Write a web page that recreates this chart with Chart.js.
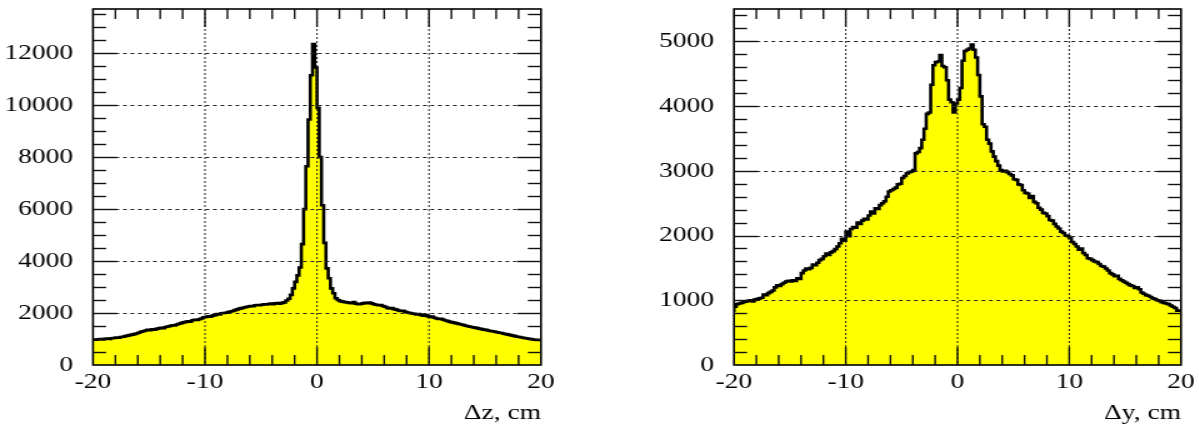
<!DOCTYPE html>
<html>
<head>
<meta charset="utf-8">
<script src="https://cdn.jsdelivr.net/npm/chart.js@4.4.1/dist/chart.umd.min.js"></script>
<style>
  html, body { margin: 0; padding: 0; background: #fff; }
  body { width: 1199px; height: 435px; position: relative; overflow: hidden; }
  /* the original figure is stretched sideways, so the canvases are too */
  .plot { position: absolute; top: 0; transform: scaleX(1.25); transform-origin: 0 0; }
</style>
</head>
<body>
<canvas id="dz" class="plot" width="480" height="435" style="left:0"></canvas>
<canvas id="dy" class="plot" width="480" height="435" style="left:600px"></canvas>
<script>
// histogram binning: 200 bins of 0.2 cm from -20 to 20
const xMin = -20;
const xMax = 20;
const binWidth = 0.2;
const xTicks = [-20, -10, 0, 10, 20];

const dzTicks = [0, 2000, 4000, 6000, 8000, 10000, 12000];
const dyTicks = [0, 1000, 2000, 3000, 4000, 5000];

// Δz counts per bin
const dzCounts = [
  950, 980, 970, 990, 1000, 985, 1010, 1020, 1005, 1030, 1040, 1060, 1050, 1080, 1090, 1110, 1130, 1150, 1170, 1190,
  1210, 1240, 1280, 1300, 1330, 1350, 1340, 1370, 1360, 1390, 1410, 1430, 1420, 1460, 1480, 1500, 1530, 1520, 1560, 1590,
  1610, 1640, 1660, 1680, 1670, 1720, 1740, 1730, 1760, 1790, 1840, 1850, 1870, 1860, 1900, 1920, 1960, 1950, 1990, 2000,
  2010, 2040, 2060, 2080, 2110, 2140, 2170, 2190, 2210, 2230, 2250, 2270, 2260, 2300, 2310, 2300, 2320, 2340, 2330, 2350,
  2360, 2340, 2370, 2380, 2360, 2390, 2410, 2480, 2550, 2700, 2950, 3200, 3450, 3750, 4650, 6000, 7650, 9450, 11150, 12350,
  11450, 9900, 8000, 6150, 4700, 3720, 3340, 2950, 2760, 2570, 2500, 2460, 2440, 2420, 2410, 2390, 2380, 2420, 2360, 2340,
  2350, 2370, 2390, 2380, 2400, 2370, 2340, 2320, 2300, 2310, 2270, 2240, 2200, 2180, 2190, 2150, 2130, 2100, 2080, 2090,
  2050, 2020, 2000, 1980, 1970, 1950, 1960, 1930, 1900, 1910, 1880, 1850, 1860, 1820, 1790, 1770, 1780, 1740, 1710, 1690,
  1660, 1640, 1620, 1600, 1580, 1560, 1540, 1510, 1490, 1470, 1450, 1440, 1420, 1400, 1380, 1360, 1350, 1330, 1310, 1300,
  1280, 1260, 1240, 1230, 1200, 1190, 1170, 1150, 1130, 1110, 1090, 1080, 1060, 1040, 1030, 1010, 1000, 980, 970, 960
];

// Δy counts per bin
const dyCounts = [
  820, 900, 940, 950, 960, 975, 980, 990, 1000, 980, 1010, 1020, 1030, 1040, 1090, 1080, 1110, 1130, 1150, 1200,
  1230, 1220, 1250, 1270, 1290, 1300, 1290, 1310, 1300, 1340, 1330, 1420, 1460, 1490, 1480, 1500, 1550, 1540, 1580, 1620,
  1640, 1680, 1720, 1700, 1740, 1760, 1790, 1830, 1880, 1950, 1920, 2060, 1990, 2100, 2130, 2120, 2200, 2180, 2230, 2260,
  2250, 2310, 2370, 2340, 2420, 2410, 2470, 2500, 2530, 2600, 2680, 2700, 2720, 2740, 2790, 2800, 2890, 2920, 2960, 2980,
  2990, 3010, 3270, 3290, 3350, 3480, 3650, 3880, 3900, 4330, 4630, 4680, 4690, 4790, 4620, 4600, 4400, 4100, 4060, 3900,
  4040, 4100, 4280, 4700, 4850, 4870, 4890, 4950, 4870, 4750, 4480, 4150, 3720, 3680, 3480, 3420, 3300, 3220, 3150, 3080,
  3010, 2990, 3000, 2980, 2950, 2930, 2870, 2860, 2790, 2780, 2700, 2660, 2650, 2580, 2610, 2520, 2500, 2430, 2400, 2350,
  2340, 2300, 2240, 2230, 2180, 2140, 2110, 2060, 2040, 2000, 1990, 1960, 1900, 1870, 1830, 1780, 1800, 1730, 1700, 1650,
  1640, 1620, 1600, 1590, 1560, 1530, 1520, 1490, 1460, 1420, 1400, 1370, 1380, 1330, 1310, 1290, 1270, 1250, 1230, 1220,
  1190, 1200, 1170, 1120, 1100, 1080, 1070, 1050, 1030, 1020, 1000, 990, 970, 960, 950, 940, 920, 900, 880, 840
];

Chart.defaults.font.family = "'Liberation Serif', 'Times New Roman', serif";
Chart.defaults.color = "#000";

// dashed grid, inner ticks on all four sides and the frame
const framePlugin = {
  id: "frame",
  afterDraw(chart, args, opts) {
    const { ctx, chartArea: a, scales } = chart;
    const x = scales.x, y = scales.y;
    const seg = (x1, y1, x2, y2) => {
      ctx.beginPath();
      ctx.moveTo(x1, y1);
      ctx.lineTo(x2, y2);
      ctx.stroke();
    };
    ctx.save();

    ctx.strokeStyle = "#222";
    ctx.lineWidth = 1;
    ctx.setLineDash([3, 3]);
    opts.yMajor.forEach((v) => {
      if (v <= 0) return;
      const py = Math.round(y.getPixelForValue(v)) + 0.5;
      seg(a.left, py, a.right, py);
    });
    ctx.setLineDash([2, 2]);
    xTicks.forEach((v) => {
      if (v <= xMin || v >= xMax) return;
      const px = x.getPixelForValue(v);
      seg(px, a.top, px, a.bottom);
    });
    ctx.setLineDash([]);

    // x ticks, top and bottom
    ctx.strokeStyle = "#111";
    ctx.lineWidth = 1.4;
    for (let v = xMin + 2; v < xMax; v += 2) {
      const px = x.getPixelForValue(v);
      const len = v % 10 === 0 ? 18 : 10;
      seg(px, a.bottom, px, a.bottom - len);
      seg(px, a.top, px, a.top + len);
    }
    // y ticks, left and right
    for (let v = opts.yMinor; v < y.max; v += opts.yMinor) {
      const py = Math.round(y.getPixelForValue(v)) + 0.5;
      const len = opts.yMajor.includes(v) ? 19 : 10.5;
      seg(a.left, py, a.left + len, py);
      seg(a.right, py, a.right - len, py);
    }

    ctx.strokeStyle = "#000";
    ctx.lineWidth = 1.6;
    ctx.strokeRect(a.left, a.top, a.right - a.left, a.bottom - a.top);
    ctx.restore();
  },
};

function makeHist(canvasId, counts, yMax, yMajor, yMinor, title, leftW, rightPad) {
  let points = counts.map((c, i) => ({ x: xMin + i * binWidth, y: c }));
  points.push({ x: xMax, y: counts[counts.length - 1] });

  new Chart(document.getElementById(canvasId), {
    type: "line",
    data: {
      datasets: [
        {
          data: points,
          stepped: "after",
          borderColor: "#000",
          borderWidth: 2.6,
          backgroundColor: "#ffff00",
          fill: "origin",
          pointRadius: 0,
        },
      ],
    },
    plugins: [framePlugin],
    options: {
      responsive: false,
      animation: false,
      devicePixelRatio: 1,
      layout: { padding: { left: 0, right: rightPad, top: 9, bottom: 0 } },
      plugins: {
        legend: { display: false },
        tooltip: { enabled: false },
        frame: { yMajor: yMajor, yMinor: yMinor },
      },
      scales: {
        x: {
          type: "linear",
          min: xMin,
          max: xMax,
          grid: { display: false, drawTicks: false },
          border: { display: false },
          afterBuildTicks: (s) => { s.ticks = xTicks.map((v) => ({ value: v })); },
          afterFit: (s) => { s.height = 70; s.paddingLeft = 0; s.paddingRight = 0; },
          ticks: {
            autoSkip: false,
            maxRotation: 0,
            padding: 4,
            font: { size: 22 },
            callback: (v) => String(v),
          },
          title: {
            display: true,
            text: title,
            align: "end",
            font: { size: 22 },
            padding: { top: 0, bottom: 9 },
          },
        },
        y: {
          type: "linear",
          min: 0,
          max: yMax,
          grid: { display: false, drawTicks: false },
          border: { display: false },
          afterBuildTicks: (s) => { s.ticks = yMajor.map((v) => ({ value: v })); },
          afterFit: (s) => { s.width = leftW; s.paddingTop = 0; s.paddingBottom = 0; },
          ticks: {
            autoSkip: false,
            padding: 16,
            font: { size: 22 },
            callback: (v) => String(v),
          },
        },
      },
    },
  });
}

makeHist("dz", dzCounts, 13700, dzTicks, 500, "Δz, cm", 74.4, 47.2);
makeHist("dy", dyCounts, 5500, dyTicks, 200, "Δy, cm", 107.2, 15.2);
</script>
</body>
</html>
